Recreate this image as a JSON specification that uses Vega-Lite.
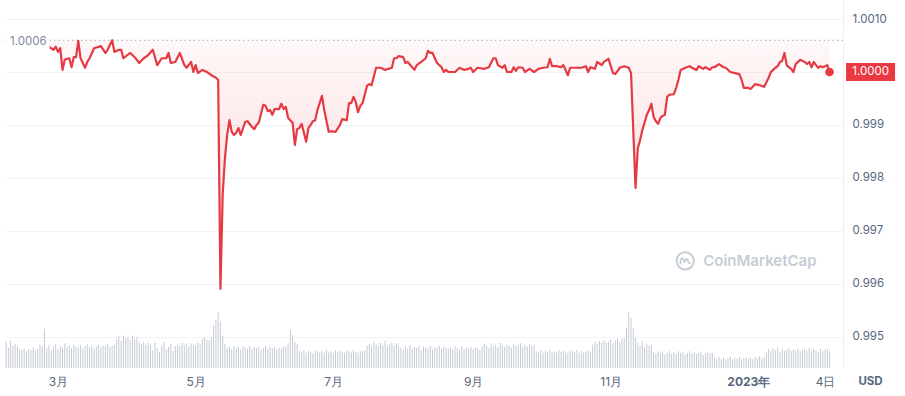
{
"$schema":"https://vega.github.io/schema/vega-lite/v6.json",
"width":838,"height":368,
"autosize":{"type":"none"},
"padding":{"left":5,"top":0,"right":62,"bottom":28},
"background":"#ffffff",
"config":{"view":{"stroke":null},"font":"Inter"},
"datasets":{
"price":[
{"date":"2022-02-06","price":1.00060},{"date":"2022-02-09","price":1.00057},{"date":"2022-02-13","price":1.00053},{"date":"2022-02-17","price":1.00059},{"date":"2022-02-21","price":1.00055},{"date":"2022-02-24","price":1.00058},{"date":"2022-02-25","price":1.00048},{"date":"2022-02-27","price":1.00042},{"date":"2022-02-28","price":1.00048},
{"date":"2022-03-01","price":1.00038},{"date":"2022-03-02","price":1.00045},{"date":"2022-03-03","price":1.00004},{"date":"2022-03-04","price":1.00023},{"date":"2022-03-05","price":1.00025},{"date":"2022-03-06","price":1.00026},{"date":"2022-03-07","price":1.00009},{"date":"2022-03-08","price":1.00028},{"date":"2022-03-09","price":1.00028},{"date":"2022-03-10","price":1.00059},{"date":"2022-03-11","price":1.00026},{"date":"2022-03-13","price":1.00008},{"date":"2022-03-14","price":1.00019},{"date":"2022-03-15","price":1.00026},{"date":"2022-03-17","price":1.00045},{"date":"2022-03-20","price":1.00049},{"date":"2022-03-22","price":1.00036},{"date":"2022-03-23","price":1.00042},{"date":"2022-03-25","price":1.00060},{"date":"2022-03-26","price":1.00038},{"date":"2022-03-28","price":1.00042},{"date":"2022-03-29","price":1.00042},{"date":"2022-03-30","price":1.00026},
{"date":"2022-04-02","price":1.00036},{"date":"2022-04-04","price":1.00028},{"date":"2022-04-06","price":1.00017},{"date":"2022-04-08","price":1.00026},{"date":"2022-04-10","price":1.00032},{"date":"2022-04-12","price":1.00042},{"date":"2022-04-14","price":1.00013},{"date":"2022-04-16","price":1.00026},{"date":"2022-04-18","price":1.00026},{"date":"2022-04-19","price":1.00036},{"date":"2022-04-20","price":1.00017},{"date":"2022-04-22","price":1.00019},{"date":"2022-04-24","price":1.00036},{"date":"2022-04-26","price":1.00013},{"date":"2022-04-27","price":1.00008},{"date":"2022-04-29","price":1.00019},{"date":"2022-04-30","price":1.00000},
{"date":"2022-05-01","price":1.00013},{"date":"2022-05-02","price":0.99998},{"date":"2022-05-04","price":1.00004},{"date":"2022-05-06","price":1.00000},{"date":"2022-05-08","price":0.99994},{"date":"2022-05-10","price":0.99989},{"date":"2022-05-11","price":0.99985},{"date":"2022-05-12","price":0.99590},{"date":"2022-05-13","price":0.99768},{"date":"2022-05-14","price":0.99837},{"date":"2022-05-15","price":0.99881},{"date":"2022-05-16","price":0.99909},{"date":"2022-05-17","price":0.99887},{"date":"2022-05-18","price":0.99881},{"date":"2022-05-19","price":0.99885},{"date":"2022-05-20","price":0.99894},{"date":"2022-05-21","price":0.99881},{"date":"2022-05-23","price":0.99906},{"date":"2022-05-24","price":0.99907},{"date":"2022-05-26","price":0.99896},{"date":"2022-05-27","price":0.99892},{"date":"2022-05-28","price":0.99900},{"date":"2022-05-29","price":0.99904},{"date":"2022-05-31","price":0.99938},
{"date":"2022-06-01","price":0.99936},{"date":"2022-06-02","price":0.99926},{"date":"2022-06-03","price":0.99928},{"date":"2022-06-04","price":0.99919},{"date":"2022-06-05","price":0.99930},{"date":"2022-06-07","price":0.99930},{"date":"2022-06-08","price":0.99940},{"date":"2022-06-09","price":0.99930},{"date":"2022-06-10","price":0.99934},{"date":"2022-06-11","price":0.99913},{"date":"2022-06-13","price":0.99904},{"date":"2022-06-14","price":0.99862},{"date":"2022-06-15","price":0.99892},{"date":"2022-06-16","price":0.99894},{"date":"2022-06-17","price":0.99902},{"date":"2022-06-19","price":0.99868},{"date":"2022-06-20","price":0.99894},{"date":"2022-06-21","price":0.99900},{"date":"2022-06-22","price":0.99907},{"date":"2022-06-23","price":0.99909},{"date":"2022-06-24","price":0.99928},{"date":"2022-06-26","price":0.99955},{"date":"2022-06-27","price":0.99928},{"date":"2022-06-29","price":0.99887},{"date":"2022-06-30","price":0.99888},
{"date":"2022-07-02","price":0.99887},{"date":"2022-07-04","price":0.99900},{"date":"2022-07-05","price":0.99911},{"date":"2022-07-07","price":0.99909},{"date":"2022-07-08","price":0.99941},{"date":"2022-07-09","price":0.99941},{"date":"2022-07-10","price":0.99953},{"date":"2022-07-11","price":0.99943},{"date":"2022-07-12","price":0.99924},{"date":"2022-07-13","price":0.99936},{"date":"2022-07-14","price":0.99941},{"date":"2022-07-16","price":0.99974},{"date":"2022-07-17","price":0.99977},{"date":"2022-07-18","price":0.99975},{"date":"2022-07-20","price":1.00008},{"date":"2022-07-22","price":1.00008},{"date":"2022-07-24","price":1.00004},{"date":"2022-07-27","price":1.00008},{"date":"2022-07-28","price":1.00026},{"date":"2022-07-29","price":1.00026},{"date":"2022-07-30","price":1.00030},
{"date":"2022-08-01","price":1.00028},{"date":"2022-08-02","price":1.00017},{"date":"2022-08-03","price":1.00019},{"date":"2022-08-06","price":1.00004},{"date":"2022-08-07","price":1.00013},{"date":"2022-08-09","price":1.00019},{"date":"2022-08-11","price":1.00026},{"date":"2022-08-12","price":1.00040},{"date":"2022-08-13","price":1.00036},{"date":"2022-08-14","price":1.00036},{"date":"2022-08-16","price":1.00017},{"date":"2022-08-18","price":1.00009},{"date":"2022-08-19","price":1.00000},{"date":"2022-08-20","price":1.00004},{"date":"2022-08-21","price":1.00000},{"date":"2022-08-24","price":1.00000},{"date":"2022-08-26","price":1.00008},{"date":"2022-08-28","price":1.00004},{"date":"2022-08-30","price":1.00006},{"date":"2022-08-31","price":1.00008},
{"date":"2022-09-01","price":1.00000},{"date":"2022-09-03","price":1.00008},{"date":"2022-09-06","price":1.00006},{"date":"2022-09-08","price":1.00009},{"date":"2022-09-10","price":1.00026},{"date":"2022-09-11","price":1.00026},{"date":"2022-09-12","price":1.00013},{"date":"2022-09-14","price":1.00008},{"date":"2022-09-15","price":1.00013},{"date":"2022-09-16","price":1.00000},{"date":"2022-09-18","price":1.00000},{"date":"2022-09-19","price":1.00009},{"date":"2022-09-20","price":1.00002},{"date":"2022-09-21","price":1.00009},{"date":"2022-09-23","price":1.00008},{"date":"2022-09-24","price":1.00000},{"date":"2022-09-26","price":1.00006},{"date":"2022-09-28","price":1.00000},{"date":"2022-09-30","price":1.00006},
{"date":"2022-10-02","price":1.00008},{"date":"2022-10-04","price":1.00009},{"date":"2022-10-05","price":1.00025},{"date":"2022-10-06","price":1.00011},{"date":"2022-10-08","price":1.00011},{"date":"2022-10-10","price":1.00009},{"date":"2022-10-11","price":1.00013},{"date":"2022-10-13","price":0.99994},{"date":"2022-10-14","price":1.00008},{"date":"2022-10-17","price":1.00008},{"date":"2022-10-19","price":1.00008},{"date":"2022-10-21","price":1.00011},{"date":"2022-10-22","price":1.00000},{"date":"2022-10-23","price":1.00009},{"date":"2022-10-25","price":1.00006},{"date":"2022-10-26","price":1.00019},{"date":"2022-10-28","price":1.00013},{"date":"2022-10-29","price":1.00019},{"date":"2022-10-31","price":1.00025},
{"date":"2022-11-02","price":0.99998},{"date":"2022-11-03","price":0.99996},{"date":"2022-11-05","price":1.00008},{"date":"2022-11-07","price":1.00011},{"date":"2022-11-09","price":1.00008},{"date":"2022-11-10","price":0.99998},{"date":"2022-11-12","price":0.99781},{"date":"2022-11-13","price":0.99856},{"date":"2022-11-14","price":0.99871},{"date":"2022-11-15","price":0.99890},{"date":"2022-11-16","price":0.99904},{"date":"2022-11-17","price":0.99919},{"date":"2022-11-18","price":0.99928},{"date":"2022-11-19","price":0.99940},{"date":"2022-11-20","price":0.99915},{"date":"2022-11-21","price":0.99907},{"date":"2022-11-22","price":0.99902},{"date":"2022-11-23","price":0.99913},{"date":"2022-11-24","price":0.99917},{"date":"2022-11-25","price":0.99919},{"date":"2022-11-26","price":0.99953},{"date":"2022-11-27","price":0.99957},{"date":"2022-11-29","price":0.99958},{"date":"2022-11-30","price":0.99970},
{"date":"2022-12-01","price":0.99985},{"date":"2022-12-02","price":1.00004},{"date":"2022-12-04","price":1.00008},{"date":"2022-12-06","price":1.00011},{"date":"2022-12-07","price":1.00008},{"date":"2022-12-09","price":1.00004},{"date":"2022-12-10","price":1.00011},{"date":"2022-12-12","price":1.00006},{"date":"2022-12-13","price":1.00009},{"date":"2022-12-15","price":1.00004},{"date":"2022-12-16","price":1.00009},{"date":"2022-12-17","price":1.00009},{"date":"2022-12-19","price":1.00015},{"date":"2022-12-21","price":1.00009},{"date":"2022-12-22","price":1.00008},{"date":"2022-12-24","price":1.00000},{"date":"2022-12-26","price":0.99998},{"date":"2022-12-28","price":0.99996},{"date":"2022-12-29","price":0.99985},{"date":"2022-12-30","price":0.99970},{"date":"2022-12-31","price":0.99970},
{"date":"2023-01-01","price":0.99970},{"date":"2023-01-02","price":0.99968},{"date":"2023-01-04","price":0.99977},{"date":"2023-01-06","price":0.99975},{"date":"2023-01-08","price":0.99972},{"date":"2023-01-10","price":0.99989},{"date":"2023-01-11","price":1.00000},{"date":"2023-01-12","price":1.00004},{"date":"2023-01-13","price":1.00008},{"date":"2023-01-14","price":1.00011},{"date":"2023-01-15","price":1.00019},{"date":"2023-01-16","price":1.00021},{"date":"2023-01-17","price":1.00036},{"date":"2023-01-18","price":1.00013},{"date":"2023-01-19","price":1.00009},{"date":"2023-01-20","price":1.00006},{"date":"2023-01-21","price":1.00000},{"date":"2023-01-22","price":1.00015},{"date":"2023-01-24","price":1.00023},{"date":"2023-01-26","price":1.00019},{"date":"2023-01-27","price":1.00015},{"date":"2023-01-28","price":1.00019},{"date":"2023-01-29","price":1.00009},{"date":"2023-01-30","price":1.00019},{"date":"2023-01-31","price":1.00013},
{"date":"2023-02-01","price":1.00008},{"date":"2023-02-02","price":1.00011},{"date":"2023-02-03","price":1.00009},{"date":"2023-02-04","price":1.00011},{"date":"2023-02-05","price":1.00013},{"date":"2023-02-06","price":1.00000}
],
"vol":[
{"date":"2022-02-06","v":56},{"date":"2022-02-07","v":44},{"date":"2022-02-08","v":58},{"date":"2022-02-09","v":48},{"date":"2022-02-10","v":52},{"date":"2022-02-11","v":46},{"date":"2022-02-12","v":40},{"date":"2022-02-13","v":38},{"date":"2022-02-14","v":42},{"date":"2022-02-15","v":36},{"date":"2022-02-16","v":41},{"date":"2022-02-17","v":39},{"date":"2022-02-18","v":44},{"date":"2022-02-19","v":37},{"date":"2022-02-20","v":40},{"date":"2022-02-21","v":50},{"date":"2022-02-22","v":46},{"date":"2022-02-23","v":84},{"date":"2022-02-24","v":42},{"date":"2022-02-25","v":50},{"date":"2022-02-26","v":38},{"date":"2022-02-27","v":46},{"date":"2022-02-28","v":52},
{"date":"2022-03-01","v":40},{"date":"2022-03-02","v":48},{"date":"2022-03-03","v":44},{"date":"2022-03-04","v":53},{"date":"2022-03-05","v":45},{"date":"2022-03-06","v":48},{"date":"2022-03-07","v":43},{"date":"2022-03-08","v":50},{"date":"2022-03-09","v":46},{"date":"2022-03-10","v":44},{"date":"2022-03-11","v":49},{"date":"2022-03-12","v":42},{"date":"2022-03-13","v":47},{"date":"2022-03-14","v":51},{"date":"2022-03-15","v":45},{"date":"2022-03-16","v":48},{"date":"2022-03-17","v":43},{"date":"2022-03-18","v":46},{"date":"2022-03-19","v":50},{"date":"2022-03-20","v":44},{"date":"2022-03-21","v":49},{"date":"2022-03-22","v":47},{"date":"2022-03-23","v":52},{"date":"2022-03-24","v":45},{"date":"2022-03-25","v":48},{"date":"2022-03-26","v":50},{"date":"2022-03-27","v":62},{"date":"2022-03-28","v":68},{"date":"2022-03-29","v":58},{"date":"2022-03-30","v":70},{"date":"2022-03-31","v":64},
{"date":"2022-04-01","v":66},{"date":"2022-04-02","v":60},{"date":"2022-04-03","v":69},{"date":"2022-04-04","v":63},{"date":"2022-04-05","v":67},{"date":"2022-04-06","v":55},{"date":"2022-04-07","v":52},{"date":"2022-04-08","v":56},{"date":"2022-04-09","v":50},{"date":"2022-04-10","v":54},{"date":"2022-04-11","v":50},{"date":"2022-04-12","v":38},{"date":"2022-04-13","v":55},{"date":"2022-04-14","v":42},{"date":"2022-04-15","v":35},{"date":"2022-04-16","v":48},{"date":"2022-04-17","v":56},{"date":"2022-04-18","v":40},{"date":"2022-04-19","v":45},{"date":"2022-04-20","v":52},{"date":"2022-04-21","v":36},{"date":"2022-04-22","v":47},{"date":"2022-04-23","v":50},{"date":"2022-04-24","v":47},{"date":"2022-04-25","v":54},{"date":"2022-04-26","v":49},{"date":"2022-04-27","v":52},{"date":"2022-04-28","v":46},{"date":"2022-04-29","v":53},{"date":"2022-04-30","v":50},
{"date":"2022-05-01","v":48},{"date":"2022-05-02","v":55},{"date":"2022-05-03","v":51},{"date":"2022-05-04","v":62},{"date":"2022-05-05","v":66},{"date":"2022-05-06","v":60},{"date":"2022-05-07","v":60},{"date":"2022-05-08","v":65},{"date":"2022-05-09","v":92},{"date":"2022-05-10","v":103},{"date":"2022-05-11","v":120},{"date":"2022-05-12","v":100},{"date":"2022-05-13","v":69},{"date":"2022-05-14","v":52},{"date":"2022-05-15","v":44},{"date":"2022-05-16","v":46},{"date":"2022-05-17","v":40},{"date":"2022-05-18","v":47},{"date":"2022-05-19","v":43},{"date":"2022-05-20","v":45},{"date":"2022-05-21","v":38},{"date":"2022-05-22","v":46},{"date":"2022-05-23","v":44},{"date":"2022-05-24","v":42},{"date":"2022-05-25","v":47},{"date":"2022-05-26","v":40},{"date":"2022-05-27","v":45},{"date":"2022-05-28","v":43},{"date":"2022-05-29","v":46},{"date":"2022-05-30","v":39},{"date":"2022-05-31","v":44},
{"date":"2022-06-01","v":47},{"date":"2022-06-02","v":41},{"date":"2022-06-03","v":45},{"date":"2022-06-04","v":43},{"date":"2022-06-05","v":46},{"date":"2022-06-06","v":40},{"date":"2022-06-07","v":44},{"date":"2022-06-08","v":42},{"date":"2022-06-09","v":47},{"date":"2022-06-10","v":45},{"date":"2022-06-11","v":54},{"date":"2022-06-12","v":82},{"date":"2022-06-13","v":71},{"date":"2022-06-14","v":56},{"date":"2022-06-15","v":52},{"date":"2022-06-16","v":36},{"date":"2022-06-17","v":34},{"date":"2022-06-18","v":38},{"date":"2022-06-19","v":33},{"date":"2022-06-20","v":37},{"date":"2022-06-21","v":35},{"date":"2022-06-22","v":32},{"date":"2022-06-23","v":38},{"date":"2022-06-24","v":36},{"date":"2022-06-25","v":34},{"date":"2022-06-26","v":37},{"date":"2022-06-27","v":33},{"date":"2022-06-28","v":39},{"date":"2022-06-29","v":35},{"date":"2022-06-30","v":36},
{"date":"2022-07-01","v":32},{"date":"2022-07-02","v":38},{"date":"2022-07-03","v":34},{"date":"2022-07-04","v":37},{"date":"2022-07-05","v":35},{"date":"2022-07-06","v":33},{"date":"2022-07-07","v":38},{"date":"2022-07-08","v":36},{"date":"2022-07-09","v":34},{"date":"2022-07-10","v":39},{"date":"2022-07-11","v":35},{"date":"2022-07-12","v":33},{"date":"2022-07-13","v":37},{"date":"2022-07-14","v":36},{"date":"2022-07-15","v":38},{"date":"2022-07-16","v":48},{"date":"2022-07-17","v":52},{"date":"2022-07-18","v":45},{"date":"2022-07-19","v":56},{"date":"2022-07-20","v":50},{"date":"2022-07-21","v":47},{"date":"2022-07-22","v":54},{"date":"2022-07-23","v":49},{"date":"2022-07-24","v":58},{"date":"2022-07-25","v":46},{"date":"2022-07-26","v":51},{"date":"2022-07-27","v":55},{"date":"2022-07-28","v":48},{"date":"2022-07-29","v":53},{"date":"2022-07-30","v":47},{"date":"2022-07-31","v":44},
{"date":"2022-08-01","v":40},{"date":"2022-08-02","v":47},{"date":"2022-08-03","v":42},{"date":"2022-08-04","v":49},{"date":"2022-08-05","v":41},{"date":"2022-08-06","v":45},{"date":"2022-08-07","v":43},{"date":"2022-08-08","v":48},{"date":"2022-08-09","v":39},{"date":"2022-08-10","v":46},{"date":"2022-08-11","v":44},{"date":"2022-08-12","v":42},{"date":"2022-08-13","v":47},{"date":"2022-08-14","v":40},{"date":"2022-08-15","v":45},{"date":"2022-08-16","v":43},{"date":"2022-08-17","v":48},{"date":"2022-08-18","v":41},{"date":"2022-08-19","v":46},{"date":"2022-08-20","v":44},{"date":"2022-08-21","v":42},{"date":"2022-08-22","v":45},{"date":"2022-08-23","v":40},{"date":"2022-08-24","v":46},{"date":"2022-08-25","v":43},{"date":"2022-08-26","v":39},{"date":"2022-08-27","v":47},{"date":"2022-08-28","v":41},{"date":"2022-08-29","v":44},{"date":"2022-08-30","v":42},{"date":"2022-08-31","v":46},
{"date":"2022-09-01","v":40},{"date":"2022-09-02","v":45},{"date":"2022-09-03","v":43},{"date":"2022-09-04","v":38},{"date":"2022-09-05","v":46},{"date":"2022-09-06","v":52},{"date":"2022-09-07","v":48},{"date":"2022-09-08","v":44},{"date":"2022-09-09","v":53},{"date":"2022-09-10","v":47},{"date":"2022-09-11","v":50},{"date":"2022-09-12","v":45},{"date":"2022-09-13","v":54},{"date":"2022-09-14","v":49},{"date":"2022-09-15","v":46},{"date":"2022-09-16","v":51},{"date":"2022-09-17","v":48},{"date":"2022-09-18","v":44},{"date":"2022-09-19","v":52},{"date":"2022-09-20","v":47},{"date":"2022-09-21","v":50},{"date":"2022-09-22","v":53},{"date":"2022-09-23","v":45},{"date":"2022-09-24","v":49},{"date":"2022-09-25","v":46},{"date":"2022-09-26","v":51},{"date":"2022-09-27","v":48},{"date":"2022-09-28","v":50},{"date":"2022-09-29","v":36},{"date":"2022-09-30","v":34},
{"date":"2022-10-01","v":38},{"date":"2022-10-02","v":33},{"date":"2022-10-03","v":37},{"date":"2022-10-04","v":35},{"date":"2022-10-05","v":39},{"date":"2022-10-06","v":34},{"date":"2022-10-07","v":36},{"date":"2022-10-08","v":33},{"date":"2022-10-09","v":38},{"date":"2022-10-10","v":35},{"date":"2022-10-11","v":37},{"date":"2022-10-12","v":34},{"date":"2022-10-13","v":32},{"date":"2022-10-14","v":38},{"date":"2022-10-15","v":36},{"date":"2022-10-16","v":35},{"date":"2022-10-17","v":39},{"date":"2022-10-18","v":33},{"date":"2022-10-19","v":37},{"date":"2022-10-20","v":34},{"date":"2022-10-21","v":36},{"date":"2022-10-22","v":38},{"date":"2022-10-23","v":35},{"date":"2022-10-24","v":50},{"date":"2022-10-25","v":56},{"date":"2022-10-26","v":52},{"date":"2022-10-27","v":58},{"date":"2022-10-28","v":54},{"date":"2022-10-29","v":60},{"date":"2022-10-30","v":55},{"date":"2022-10-31","v":57},
{"date":"2022-11-01","v":62},{"date":"2022-11-02","v":53},{"date":"2022-11-03","v":59},{"date":"2022-11-04","v":64},{"date":"2022-11-05","v":56},{"date":"2022-11-06","v":61},{"date":"2022-11-07","v":65},{"date":"2022-11-08","v":86},{"date":"2022-11-09","v":120},{"date":"2022-11-10","v":108},{"date":"2022-11-11","v":86},{"date":"2022-11-12","v":65},{"date":"2022-11-13","v":55},{"date":"2022-11-14","v":48},{"date":"2022-11-15","v":58},{"date":"2022-11-16","v":44},{"date":"2022-11-17","v":52},{"date":"2022-11-18","v":47},{"date":"2022-11-19","v":50},{"date":"2022-11-20","v":34},{"date":"2022-11-21","v":30},{"date":"2022-11-22","v":36},{"date":"2022-11-23","v":32},{"date":"2022-11-24","v":35},{"date":"2022-11-25","v":29},{"date":"2022-11-26","v":33},{"date":"2022-11-27","v":37},{"date":"2022-11-28","v":31},{"date":"2022-11-29","v":34},{"date":"2022-11-30","v":30},
{"date":"2022-12-01","v":36},{"date":"2022-12-02","v":33},{"date":"2022-12-03","v":35},{"date":"2022-12-04","v":29},{"date":"2022-12-05","v":32},{"date":"2022-12-06","v":36},{"date":"2022-12-07","v":31},{"date":"2022-12-08","v":34},{"date":"2022-12-09","v":30},{"date":"2022-12-10","v":33},{"date":"2022-12-11","v":35},{"date":"2022-12-12","v":28},{"date":"2022-12-13","v":32},{"date":"2022-12-14","v":34},{"date":"2022-12-15","v":31},{"date":"2022-12-16","v":33},{"date":"2022-12-17","v":22},{"date":"2022-12-18","v":19},{"date":"2022-12-19","v":24},{"date":"2022-12-20","v":20},{"date":"2022-12-21","v":23},{"date":"2022-12-22","v":18},{"date":"2022-12-23","v":21},{"date":"2022-12-24","v":25},{"date":"2022-12-25","v":19},{"date":"2022-12-26","v":22},{"date":"2022-12-27","v":20},{"date":"2022-12-28","v":24},{"date":"2022-12-29","v":18},{"date":"2022-12-30","v":21},{"date":"2022-12-31","v":23},
{"date":"2023-01-01","v":20},{"date":"2023-01-02","v":22},{"date":"2023-01-03","v":19},{"date":"2023-01-04","v":24},{"date":"2023-01-05","v":21},{"date":"2023-01-06","v":26},{"date":"2023-01-07","v":20},{"date":"2023-01-08","v":23},{"date":"2023-01-09","v":34},{"date":"2023-01-10","v":40},{"date":"2023-01-11","v":36},{"date":"2023-01-12","v":42},{"date":"2023-01-13","v":38},{"date":"2023-01-14","v":44},{"date":"2023-01-15","v":35},{"date":"2023-01-16","v":41},{"date":"2023-01-17","v":37},{"date":"2023-01-18","v":39},{"date":"2023-01-19","v":43},{"date":"2023-01-20","v":36},{"date":"2023-01-21","v":40},{"date":"2023-01-22","v":38},{"date":"2023-01-23","v":42},{"date":"2023-01-24","v":35},{"date":"2023-01-25","v":39},{"date":"2023-01-26","v":41},{"date":"2023-01-27","v":37},{"date":"2023-01-28","v":43},{"date":"2023-01-29","v":36},{"date":"2023-01-30","v":40},{"date":"2023-01-31","v":38},
{"date":"2023-02-01","v":34},{"date":"2023-02-02","v":41},{"date":"2023-02-03","v":37},{"date":"2023-02-04","v":39},{"date":"2023-02-05","v":42},{"date":"2023-02-06","v":36}
],
"ref":[{"date":"2022-02-06","price":1.0006}],
"last":[{"date":"2023-02-06","price":1.0000}],
"mark":[{"date":"2022-12-12","price":0.99643,"name":"CoinMarketCap"}]
},
"resolve":{"scale":{"y":"independent"},"axis":{"y":"independent"}},
"layer":[
{
"data":{"name":"vol"},
"mark":{"type":"bar","width":1,"color":"#c5cbd5"},
"encoding":{
"x":{"field":"date","type":"temporal","scale":{"type":"utc","padding":0,"domain":[{"year":2022,"month":2,"date":5,"hours":12,"minutes":15,"utc":true},{"year":2023,"month":2,"date":11,"hours":23,"utc":true}]},
"axis":{"values":[{"year":2022,"month":3,"date":1,"utc":true},{"year":2022,"month":5,"date":1,"utc":true},{"year":2022,"month":7,"date":1,"utc":true},{"year":2022,"month":9,"date":1,"utc":true},{"year":2022,"month":11,"date":1,"utc":true},{"year":2023,"month":1,"date":1,"utc":true},{"year":2023,"month":2,"date":4,"utc":true}],
"labelExpr":"utcdate(datum.value) != 1 ? utcdate(datum.value) + '日' : (utcmonth(datum.value) == 0 ? utcyear(datum.value) + '年' : (utcmonth(datum.value) + 1) + '月')",
"labelFontWeight":{"condition":{"test":"utcmonth(datum.value) == 0 && utcdate(datum.value) == 1","value":"bold"},"value":"normal"},
"grid":false,"ticks":false,"domain":false,"labelPadding":8,"labelFont":"Inter","labelFontSize":12,"labelColor":"#58667e","labelFlush":false,"labelOverlap":false,"title":null}},
"y":{"field":"v","type":"quantitative","scale":{"domain":[0,790],"nice":false,"padding":0},"axis":null}
}
},
{
"encoding":{
"y":{"field":"price","type":"quantitative","scale":{"domain":[0.994405,1.001361],"zero":false,"nice":false},
"axis":{"orient":"right","values":[0.995,0.996,0.997,0.998,0.999,1,1.001],
"labelExpr":"datum.value > 1.0005 ? format(datum.value, '.4f') : (datum.value > 0.9995 ? '' : format(datum.value, '.3f'))",
"grid":true,"gridColor":"#f1f3f6","ticks":false,"domain":true,"domainColor":"#eef0f3","labelPadding":9,"labelFont":"Inter","labelFontSize":11.5,"labelColor":"#58667e","labelOverlap":false,
"title":"USD","titleAngle":0,"titleX":27,"titleY":381,"titleAlign":"center","titleBaseline":"middle","titleFont":"Inter","titleFontSize":11.5,"titleFontWeight":"bold","titleColor":"#58667e"}}
},
"layer":[
{
"data":{"name":"ref"},
"mark":{"type":"rule","color":"#a3a9b5","strokeDash":[1.5,3],"strokeWidth":1},
"encoding":{}
},
{
"data":{"name":"price"},
"mark":{"type":"area","fill":{"gradient":"linear","x1":0,"y1":0,"x2":0,"y2":1,"stops":[{"offset":0,"color":"rgba(234,57,67,0.04)"},{"offset":1,"color":"rgba(234,57,67,0.22)"}]}},
"encoding":{
"x":{"field":"date","type":"temporal","scale":{"type":"utc","padding":0}},
"y2":{"datum":1.0006}
}
},
{
"data":{"name":"price"},
"mark":{"type":"line","color":"#e53a44","strokeWidth":2.2,"strokeJoin":"round"},
"encoding":{
"x":{"field":"date","type":"temporal","scale":{"type":"utc","padding":0}}
}
},
{
"data":{"name":"last"},
"mark":{"type":"point","filled":true,"color":"#ea3943","size":75,"opacity":1},
"encoding":{
"x":{"field":"date","type":"temporal","scale":{"type":"utc","padding":0}}
}
},
{
"data":{"name":"ref"},
"mark":{"type":"point","shape":"M-1,-0.36H1V0.36H-1Z","size":1936,"filled":true,"color":"#ffffff","opacity":1,"xOffset":21.5},
"encoding":{
"x":{"field":"date","type":"temporal","scale":{"type":"utc","padding":0}}
}
},
{
"data":{"name":"ref"},
"mark":{"type":"text","align":"left","baseline":"middle","xOffset":4,"dy":2,"font":"Inter","fontSize":11.5,"color":"#808a9d"},
"encoding":{
"x":{"field":"date","type":"temporal","scale":{"type":"utc","padding":0}},
"text":{"field":"price","type":"quantitative","format":".4f"}
}
},
{
"data":{"name":"last"},
"mark":{"type":"point","shape":"M-1,-0.37H1V0.37H-1Z","size":2401,"filled":true,"color":"#ea3943","opacity":1,"xOffset":41},
"encoding":{
"x":{"field":"date","type":"temporal","scale":{"type":"utc","padding":0}}
}
},
{
"data":{"name":"last"},
"mark":{"type":"text","align":"center","baseline":"middle","xOffset":41,"font":"Inter","fontSize":11.5,"color":"#ffffff"},
"encoding":{
"x":{"field":"date","type":"temporal","scale":{"type":"utc","padding":0}},
"text":{"field":"price","type":"quantitative","format":".4f"}
}
},
{
"data":{"name":"mark"},
"mark":{"type":"text","align":"left","baseline":"middle","font":"Inter","fontSize":15,"fontWeight":600,"color":"#c6ccd6"},
"encoding":{
"x":{"field":"date","type":"temporal","scale":{"type":"utc","padding":0}},
"text":{"field":"name"}
}
},
{
"data":{"name":"mark"},
"mark":{"type":"point","shape":"circle","size":300,"filled":false,"color":"#c6ccd6","strokeWidth":2,"opacity":1,"xOffset":-18},
"encoding":{
"x":{"field":"date","type":"temporal","scale":{"type":"utc","padding":0}}
}
},
{
"data":{"name":"mark"},
"mark":{"type":"point","shape":"M-0.55,0.4L-0.55,-0.05Q-0.35,-0.55 -0.12,-0.05L-0.12,0.2Q0.12,-0.55 0.32,0.05Q0.42,0.35 0.62,0.2","size":300,"filled":false,"color":"#c6ccd6","strokeWidth":1.8,"opacity":1,"xOffset":-18},
"encoding":{
"x":{"field":"date","type":"temporal","scale":{"type":"utc","padding":0}}
}
}
]
}
]
}
